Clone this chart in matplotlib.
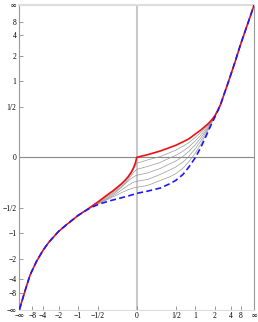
import numpy as np
import matplotlib
matplotlib.use("Agg")
import matplotlib.pyplot as plt
from matplotlib.ticker import NullLocator

#%% DATA

INF = np.inf
x = [-INF, -20, -10, -6, -4, -3, -2, -1.5, -1, -0.85, -0.7, -0.6, -0.5, -0.42, -0.35, -0.3, -0.25, -0.2, -0.15,
     -0.11, -0.08, -0.05, -0.03, -0.01, 0, 0.1, 0.25, 0.4, 0.5, 0.65, 0.8, 1, 1.2, 1.4, 1.6, 1.8, 2, 2.25, 2.5,
     3, 3.5, 4, 5, 6.5, 8, 15, 40, INF]

red = [-INF, -7.188, -3.402, -2.2, -1.577, -1.263, -0.950, -0.796, -0.618, -0.565, -0.508, -0.463, -0.417, -0.375,
       -0.336, -0.308, -0.280, -0.246, -0.211, -0.177, -0.147, -0.109, -0.077, -0.035, 0, 0.017, 0.043, 0.070,
       0.086, 0.113, 0.138, 0.181, 0.218, 0.256, 0.291, 0.334, 0.378, 0.453, 0.531, 0.745, 0.953, 1.17, 1.603,
       2.304, 3.008, 6.084, 16.92, INF]

blue = [-INF, -7.188, -3.402, -2.2, -1.577, -1.263, -0.950, -0.796, -0.618, -0.567, -0.514, -0.482, -0.453, -0.431,
        -0.414, -0.401, -0.388, -0.376, -0.362, -0.350, -0.341, -0.330, -0.323, -0.314, -0.310, -0.286, -0.253,
        -0.208, -0.178, -0.127, -0.068, -0.001, 0.069, 0.145, 0.223, 0.296, 0.360, 0.444, 0.531, 0.745, 0.953,
        1.17, 1.603, 2.304, 3.008, 6.084, 16.92, INF]

# thin grey curves in between, only where they separate from red/blue
x_grey = x[8:39]
grey1 = [-0.618, -0.566, -0.509, -0.469, -0.423, -0.383, -0.345, -0.319, -0.291, -0.258, -0.221, -0.187, -0.157,
         -0.119, -0.087, -0.057, -0.041, -0.018, 0.005, 0.033, 0.050, 0.079, 0.107, 0.151, 0.195, 0.238, 0.281,
         0.328, 0.376, 0.452, 0.531]
grey2 = [-0.618, -0.567, -0.511, -0.473, -0.430, -0.392, -0.357, -0.333, -0.305, -0.273, -0.237, -0.203, -0.172,
         -0.137, -0.113, -0.094, -0.086, -0.064, -0.035, -0.003, 0.013, 0.042, 0.074, 0.122, 0.171, 0.221, 0.270,
         0.322, 0.373, 0.451, 0.531]
grey3 = [-0.618, -0.567, -0.512, -0.473, -0.434, -0.401, -0.371, -0.347, -0.319, -0.285, -0.246, -0.212, -0.186,
         -0.163, -0.149, -0.138, -0.134, -0.115, -0.079, -0.043, -0.025, 0.006, 0.040, 0.091, 0.146, 0.203, 0.260,
         0.316, 0.370, 0.449, 0.531]
grey4 = [-0.618, -0.567, -0.512, -0.477, -0.441, -0.410, -0.382, -0.360, -0.335, -0.306, -0.274, -0.246, -0.226,
         -0.208, -0.197, -0.190, -0.187, -0.171, -0.127, -0.089, -0.068, -0.032, 0.007, 0.061, 0.121, 0.184, 0.248,
         0.311, 0.367, 0.448, 0.531]
grey5 = [-0.618, -0.567, -0.513, -0.480, -0.445, -0.415, -0.390, -0.370, -0.349, -0.327, -0.303, -0.284, -0.271,
         -0.260, -0.252, -0.247, -0.245, -0.227, -0.180, -0.145, -0.120, -0.077, -0.029, 0.029, 0.094, 0.164, 0.235,
         0.303, 0.363, 0.445, 0.531]

ticks = [-1e15, -8, -4, -2, -1, -0.5, 0, 0.5, 1, 2, 4, 8, 1e15]   # +-1e15 stands for +-infinity
tick_labels = ["\u2212\u221e", "\u22128", "\u22124", "\u22122", "\u22121", "\u22121/2", "0",
               "1/2", "1", "2", "4", "8", "\u221e"]

#%% SCALE  t -> t/(1+|t|), maps the whole real line onto (-1, 1)

def squash(a):
    a = np.asarray(a, float)
    with np.errstate(invalid="ignore"):
        return np.where(np.isinf(a), np.sign(a), a/(1 + np.abs(a)))

def unsquash(u):
    u = np.asarray(u, float)
    with np.errstate(divide="ignore"):
        return u/(1 - np.abs(u))

#%% PLOT

fig = plt.figure(figsize=(2.58, 3.22), dpi=100)
ax = fig.add_axes([19.4/258, 1 - 309.6/322, 234.7/258, 304.6/322])
ax.set_xscale("function", functions=(squash, unsquash))
ax.set_yscale("function", functions=(squash, unsquash))

ax.axvline(0, color="#c8c8c8", lw=1.5, zorder=1)
ax.axhline(0, color="#888888", lw=0.8, zorder=1)

for g in [grey1, grey2, grey3, grey4, grey5]:
    ax.plot(x_grey, g, color="#999999", lw=0.5, zorder=2)
ax.plot(x, red, color="#ee1111", lw=1.2, zorder=3)
ax.plot(x, blue, color="#1a1aff", lw=1.2, ls=(0, (3.6, 2)), zorder=4)

ax.set_xlim(ticks[0], ticks[-1])
ax.set_ylim(ticks[0], ticks[-1])
ax.set_xticks(ticks, tick_labels)
ax.set_yticks(ticks, tick_labels)
ax.xaxis.set_minor_locator(NullLocator())
ax.yaxis.set_minor_locator(NullLocator())
ax.tick_params(direction="in", length=3, width=0.6, color="#888888", labelsize=5.5, pad=2)
for lab in ax.get_xticklabels() + ax.get_yticklabels():
    lab.set_family("Liberation Serif")

ax.spines["top"].set_color("#dddddd")
ax.spines["top"].set_linewidth(1.5)
ax.spines["bottom"].set_color("#dddddd")
ax.spines["left"].set_color("#999999")
ax.spines["right"].set_color("#999999")

fig.savefig("out.png", dpi=100)
